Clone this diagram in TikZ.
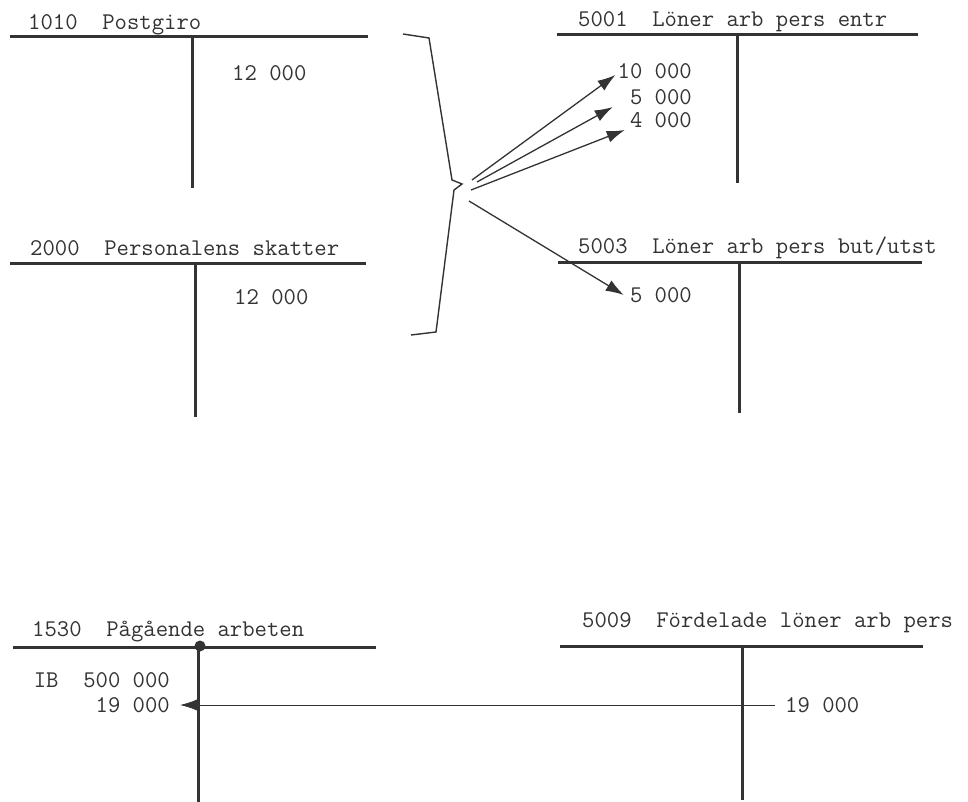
\documentclass[tikz,border=0pt]{standalone}
\usepackage{fontspec}
\usetikzlibrary{arrows.meta}

\definecolor{ink}{HTML}{333333}

\tikzset{
  konto/.style={draw=ink, line width=3pt},
  rubrik/.style={font=\ttfamily\fontsize{24}{28}\selectfont, text=ink, anchor=base west, inner sep=0pt},
  belopp/.style={font=\ttfamily\fontsize{24}{28}\selectfont, text=ink, inner sep=0pt},
  pil/.style={draw=ink, line width=1.3pt, -{Latex[length=18pt,width=12pt]}},
}

\begin{document}
\begin{tikzpicture}[x=1pt,y=-1pt]
    \useasboundingbox (0,0) rectangle (968,802);

    % Account 1010
    \node[rubrik] (t1010) at (28,30) {1010\ \ Postgiro};
    \draw[konto] (10,37) -- (368,37);
    \draw[konto] (192,37) -- (192,188);
    \node[belopp, anchor=west] (b1010) at (232,73) {12 000};

    % Account 2000
    \node[rubrik] (t2000) at (30,255) {2000\ \ Personalens skatter};
    \draw[konto] (10,263) -- (366,263);
    \draw[konto] (195,263) -- (195,417);
    \node[belopp, anchor=west] (b2000) at (234,297) {12 000};

    % Brace round both accounts
    \coordinate (spets) at (462,184);
    \draw[ink, line width=1.4pt] (403,34) -- (429,38) -- (452,180) -- (spets)
        -- (454,190) -- (436,332) -- (411,335);

    % Account 5001
    \node[rubrik] (t5001) at (578,27) {5001\ \ Löner arb pers entr};
    \draw[konto] (557,35) -- (918,35);
    \draw[konto] (737,35) -- (737,183);
    \node[belopp, anchor=east] (b5001a) at (692,71) {10 000};
    \node[belopp, anchor=east] (b5001b) at (692,97) {5 000};
    \node[belopp, anchor=east] (b5001c) at (692,120) {4 000};

    % Account 5003
    \node[rubrik] (t5003) at (578,253) {5003\ \ Löner arb pers but/utst};
    \draw[konto] (558,262) -- (922,262);
    \draw[konto] (739,262) -- (739,413);
    \node[belopp, anchor=east] (b5003) at (692,295) {5 000};

    % Arrows from the brace
    \draw[pil] ([shift={(10,-4)}]spets) -- ([shift={(-2,4)}]b5001a.west);
    \draw[pil] ([shift={(15,-2)}]spets) -- ([shift={(-17,10)}]b5001b.west);
    \draw[pil] ([shift={(9,6)}]spets) -- ([shift={(-5,10)}]b5001c.west);
    \draw[pil] ([shift={(7,17)}]spets) -- ([shift={(-6,0)}]b5003.west);

    % Account 1530
    \node[rubrik] (t1530) at (32,636) {1530\ \ Pågående arbeten};
    \draw[konto] (13,647) -- (376,647);
    \draw[konto] (198,647) -- (198,802);
    \fill[ink] (200,646) circle (5.5);
    \node[belopp, anchor=east] (b1530a) at (170,680) {IB\ \ 500 000};
    \node[belopp, anchor=east] (b1530b) at (170,705) {19 000};

    % Account 5009
    \node[rubrik] (t5009) at (582,627) {5009\ \ Fördelade löner arb pers};
    \draw[konto] (560,646) -- (923,646);
    \draw[konto] (742,646) -- (742,800);
    \node[belopp, anchor=west] (b5009) at (785,705) {19 000};

    % Transfer 5009 -> 1530
    \draw[pil, line width=1pt, shorten <=10pt, shorten >=10pt] (b5009.west) -- (b1530b.east);

\end{tikzpicture}
\end{document}
